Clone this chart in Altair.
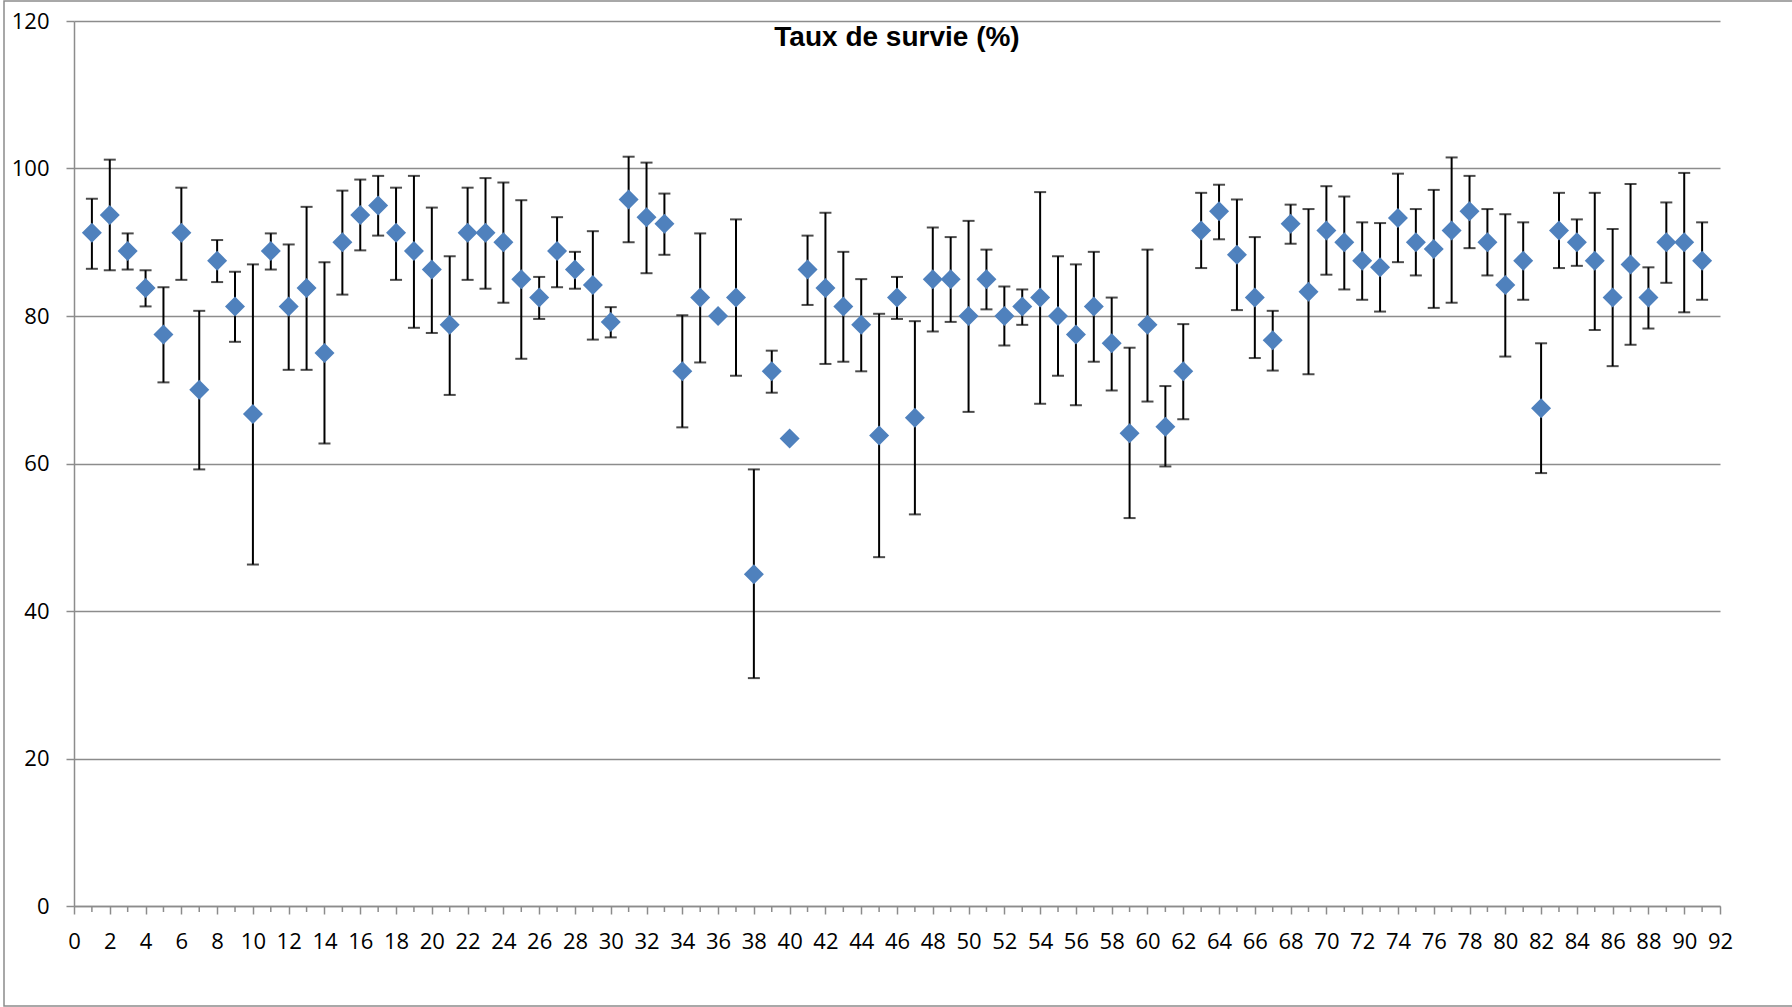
import altair as alt
import pandas as pd

# Survival rate (%) per sample: mean with upper / lower error bounds
sample_ids = list(range(1, 92))

mean_pct = [
    91.3, 93.7, 88.8, 83.8, 77.5, 91.3, 70.0, 87.5, 81.3, 66.7,
    88.8, 81.3, 83.8, 75.0, 90.0, 93.7, 95.0, 91.3, 88.8, 86.3,
    78.8, 91.3, 91.3, 90.0, 85.0, 82.5, 88.8, 86.3, 84.2, 79.2,
    95.8, 93.4, 92.5, 72.5, 82.5, 80.0, 82.5, 45.0, 72.5, 63.4,
    86.3, 83.8, 81.3, 78.8, 63.8, 82.5, 66.2, 85.0, 85.0, 80.0,
    85.0, 80.0, 81.3, 82.5, 80.0, 77.5, 81.3, 76.3, 64.1, 78.8,
    65.0, 72.5, 91.6, 94.2, 88.3, 82.5, 76.7, 92.5, 83.3, 91.6,
    90.0, 87.5, 86.6, 93.3, 90.0, 89.1, 91.6, 94.2, 90.0, 84.2,
    87.5, 67.5, 91.6, 90.0, 87.5, 82.5, 87.0, 82.5, 90.0, 90.0,
    87.5,
]

upper_pct = [
    95.9, 101.2, 91.2, 86.2, 83.9, 97.4, 80.7, 90.3, 86.0, 87.0,
    91.2, 89.7, 94.8, 87.3, 97.0, 98.5, 99.0, 97.4, 99.0, 94.7,
    88.1, 97.4, 98.7, 98.1, 95.7, 85.3, 93.4, 88.7, 91.5, 81.2,
    101.6, 100.8, 96.6, 80.1, 91.2, None, 93.1, 59.2, 75.3, None,
    90.9, 94.0, 88.7, 85.0, 80.3, 85.3, 79.3, 92.0, 90.7, 92.9,
    89.0, 84.0, 83.6, 96.8, 88.1, 87.0, 88.7, 82.5, 75.7, 89.0,
    70.5, 78.9, 96.7, 97.8, 95.8, 90.7, 80.7, 95.1, 94.5, 97.6,
    96.2, 92.7, 92.6, 99.3, 94.5, 97.1, 101.5, 99.0, 94.5, 93.8,
    92.7, 76.3, 96.7, 93.1, 96.7, 91.8, 97.9, 86.6, 95.4, 99.4,
    92.7,
]

lower_pct = [
    86.4, 86.2, 86.3, 81.3, 71.0, 84.9, 59.2, 84.6, 76.5, 46.3,
    86.3, 72.7, 72.7, 62.7, 82.9, 88.9, 90.9, 84.9, 78.4, 77.7,
    69.3, 84.9, 83.7, 81.8, 74.2, 79.6, 83.9, 83.7, 76.8, 77.1,
    90.0, 85.8, 88.3, 64.9, 73.7, None, 71.9, 30.9, 69.6, None,
    81.5, 73.5, 73.8, 72.5, 47.3, 79.6, 53.1, 77.9, 79.2, 67.0,
    80.9, 76.0, 78.8, 68.1, 71.9, 67.9, 73.8, 69.9, 52.6, 68.4,
    59.6, 66.0, 86.5, 90.4, 80.8, 74.3, 72.6, 89.8, 72.1, 85.6,
    83.6, 82.2, 80.6, 87.3, 85.5, 81.1, 81.8, 89.2, 85.5, 74.5,
    82.2, 58.7, 86.5, 86.8, 78.1, 73.2, 76.1, 78.3, 84.5, 80.5,
    82.2,
]

x_labels = list(range(0, 93, 2))
x_minor = list(range(1, 92, 2))
y_labels = list(range(0, 121, 20))
title_text = "Taux de survie (%)"

W, H = 1646, 885
GRID = "#8c8c8c"
BLUE = "#4F81BD"
FONT = "Open Sans"

df = pd.DataFrame({"id": sample_ids, "mean": mean_pct, "hi": upper_pct, "lo": lower_pct})
bars = df.dropna(subset=["hi", "lo"])

x_scale = alt.Scale(domain=[0, 92], nice=False, zero=False)
y_scale = alt.Scale(domain=[0, 120], nice=False)

x_axis = alt.Axis(
    values=x_labels, title=None, grid=False, tickSize=8, tickWidth=1.5,
    tickColor=GRID, domainColor=GRID, domainWidth=1.5,
    labelFont=FONT, labelFontSize=22, labelColor="black", labelPadding=17,
    labelFlush=False, labelOverlap=False, labelBound=False,
)
y_axis = alt.Axis(
    values=y_labels, title=None, grid=True, gridColor=GRID, gridWidth=1.5,
    tickSize=8, tickWidth=1.5, tickColor=GRID, domainColor=GRID, domainWidth=1.5,
    labelFont=FONT, labelFontSize=22, labelColor="black", labelPadding=17,
    labelOverlap=False,
)


def xq(field):
    return alt.X(field, type="quantitative", scale=x_scale, axis=x_axis)


def yq(field):
    return alt.Y(field, type="quantitative", scale=y_scale, axis=y_axis)


points = alt.Chart(df).mark_point(
    shape="diamond", filled=True, size=400, opacity=1, color=BLUE
).encode(x=xq("id"), y=yq("mean"))

stems = alt.Chart(bars).mark_rule(color="black", strokeWidth=2).encode(
    x=xq("id"), y=yq("lo"), y2="hi:Q",
)
caps_hi = alt.Chart(bars).mark_tick(
    color="black", orient="horizontal", size=12, thickness=2
).encode(x=xq("id"), y=yq("hi"))
caps_lo = alt.Chart(bars).mark_tick(
    color="black", orient="horizontal", size=12, thickness=2
).encode(x=xq("id"), y=yq("lo"))

# short minor ticks at odd positions below the x axis
minor = alt.Chart(pd.DataFrame({"t": x_minor})).mark_rule(color=GRID, strokeWidth=1.5).encode(
    x=xq("t"),
    y=alt.value(H),
    y2=alt.value(H + 6),
)

title = alt.Chart(pd.DataFrame({"t": [title_text]})).mark_text(
    font="Liberation Sans", fontWeight="bold", fontSize=28, color="black",
    align="center", baseline="middle",
).encode(text="t:N", x=alt.value(W / 2), y=alt.value(17))

# outer frame around the chart area
frame = alt.Chart(pd.DataFrame({"f": [0]})).mark_rect(
    fill=None, stroke=GRID, strokeWidth=1.5,
).encode(x=alt.value(-70), x2=alt.value(1760), y=alt.value(-20), y2=alt.value(985))

chart = alt.layer(frame, minor, stems, caps_hi, caps_lo, points, title).properties(
    width=W, height=H,
    autosize=alt.AutoSizeParams(type="none"),
    padding={"left": 74, "top": 21, "right": 72, "bottom": 101},
    background="white",
).configure_view(stroke=None)

chart.save("out.html", embed_options={"renderer": "svg", "actions": False})
